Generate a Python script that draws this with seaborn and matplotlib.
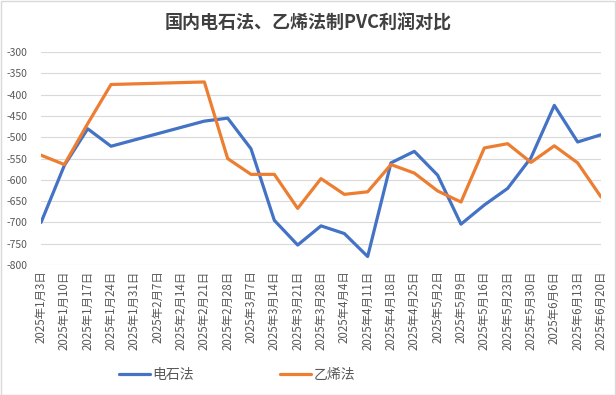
import numpy as np
import pandas as pd
import matplotlib
matplotlib.use('Agg')
import matplotlib.pyplot as plt
import seaborn as sns
from matplotlib.patches import Rectangle

dates = ['2025年1月3日', '2025年1月10日', '2025年1月17日', '2025年1月24日', '2025年1月31日',
         '2025年2月7日', '2025年2月14日', '2025年2月21日', '2025年2月28日', '2025年3月7日',
         '2025年3月14日', '2025年3月21日', '2025年3月28日', '2025年4月4日', '2025年4月11日',
         '2025年4月18日', '2025年4月25日', '2025年5月2日', '2025年5月9日', '2025年5月16日',
         '2025年5月23日', '2025年5月30日', '2025年6月6日', '2025年6月13日', '2025年6月20日']

# 春节期间无数据，折线直接连接
carbide = [-700, -566, -480, -521, np.nan, np.nan, np.nan, -462, -455, -527,
           -695, -753, -708, -726, -780, -560, -533, -589, -704, -659,
           -620, -548, -425, -511, -494]
ethylene = [-542, -564, -468, -376, np.nan, np.nan, np.nan, -370, -550, -587,
            -587, -667, -597, -634, -628, -564, -584, -626, -652, -525,
            -515, -559, -520, -560, -640]

series_names = ['电石法', '乙烯法']
colors = ['#4472C4', '#ED7D31']

df = pd.DataFrame({'idx': range(len(dates)), '电石法': carbide, '乙烯法': ethylene})
long_df = df.melt(id_vars='idx', var_name='method', value_name='profit').dropna()

sns.set_theme(style='white')
plt.rcParams['font.family'] = ['Noto Sans CJK SC', 'DejaVu Sans']
plt.rcParams['axes.unicode_minus'] = False

fig = plt.figure(figsize=(6.16, 3.95), dpi=100)
ax = fig.add_axes([0.0666, 0.329, 0.909, 0.539])

sns.lineplot(data=long_df, x='idx', y='profit', hue='method', hue_order=series_names,
             palette=colors, linewidth=2.3, ax=ax, legend=False, sort=True)

ax.set_xlim(0, len(dates) - 1)
ax.set_ylim(-800, -300)
ax.set_yticks(np.arange(-800, -299, 50))
ax.set_xticks(range(len(dates)))
ax.set_xticklabels(dates, rotation=90, fontsize=8.3, color='#595959')
ax.tick_params(axis='y', labelsize=7.5, colors='#595959', length=0, pad=10)
ax.tick_params(axis='x', length=0, pad=4)
ax.grid(axis='y', color='#d9d9d9', linewidth=0.8)
ax.set_axisbelow(True)
for s in ax.spines.values():
    s.set_visible(False)
ax.set_xlabel('')
ax.set_ylabel('')

fig.suptitle('国内电石法、乙烯法制PVC利润对比', y=0.965, fontsize=13,
             fontweight='bold', color='#404040')

handles = [plt.Line2D([], [], color=c, linewidth=2.3) for c in colors]
fig.legend(handles, series_names, loc='center', bbox_to_anchor=(0.385, 0.05), ncol=2,
           frameon=False, fontsize=10, handlelength=2.2, handletextpad=0.2,
           columnspacing=6.2, labelcolor='#595959')

fig.patches.append(Rectangle((0.001, 0.001), 0.997, 0.997, transform=fig.transFigure,
                             fill=False, edgecolor='#d9d9d9', linewidth=1))

fig.savefig('out.png', dpi=100, facecolor='white')
